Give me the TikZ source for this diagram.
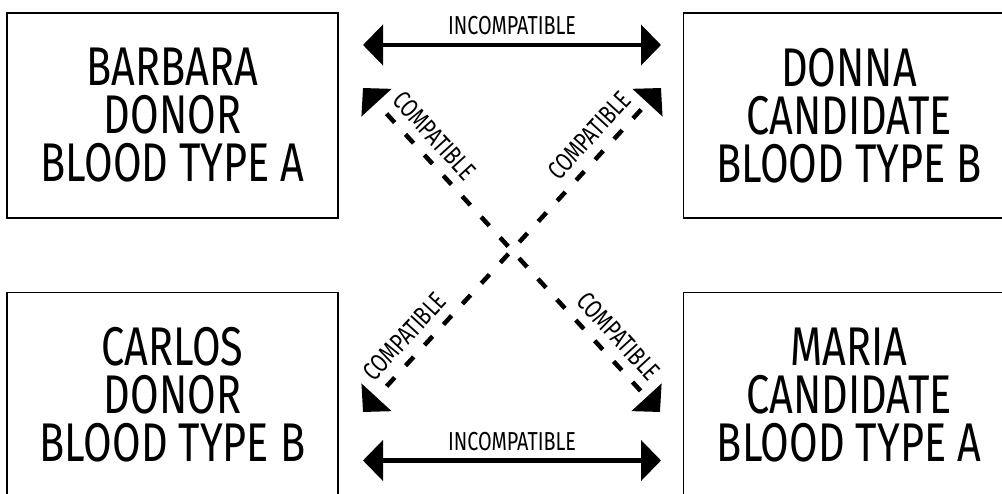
\documentclass[tikz,border=0pt]{standalone}
\usepackage{fontspec}
\setmainfont{Fira Sans}[FakeStretch=0.76]
\usetikzlibrary{positioning,arrows.meta}

\begin{document}
\begin{tikzpicture}[
      x=1pt, y=1pt,
      node distance=73pt and 344pt,
      person/.style={rectangle, draw=black, line width=1.5pt, minimum width=331pt, minimum height=205pt, align=center, inner sep=0pt, font=\fontsize{54.5pt}{48pt}\selectfont},
      lbl/.style={inner sep=2pt, font=\fontsize{26pt}{27pt}\selectfont},
      solidarrow/.style={{Triangle[length=20pt,width=40pt]}-{Triangle[length=20pt,width=40pt]}, line width=4.5pt, black},
      dasharrow/.style={solidarrow, dash pattern=on 12pt off 16pt, dash phase=12pt}
    ]
      \useasboundingbox (0,0) rectangle (1002,493);
      \clip (0,0) rectangle (1002,493);

      \node[person] (barbara) at (172.5,377.5) {BARBARA\\DONOR\\BLOOD TYPE A};
      \node[person, right=of barbara] (donna) {DONNA\\CANDIDATE\\BLOOD TYPE B};
      \node[person, below=of barbara] (carlos) {CARLOS\\DONOR\\BLOOD TYPE B};
      \node[person, right=of carlos] (maria) {MARIA\\CANDIDATE\\BLOOD TYPE A};

      % arrow ends between the boxes
      \coordinate (topL) at (363,448);
      \coordinate (topR) at (661,448);
      \coordinate (botL) at (363,32.5);
      \coordinate (botR) at (661,32.5);
      \coordinate (diagTL) at (363,405);
      \coordinate (diagTR) at (661,405);
      \coordinate (diagBL) at (363,81);
      \coordinate (diagBR) at (660,81);

      \draw[solidarrow] (topL) -- node[lbl, above=6pt]{INCOMPATIBLE} (topR);
      \draw[solidarrow] (botL) -- node[lbl, above=5pt]{INCOMPATIBLE} (botR);
      \draw[dasharrow] (diagTL) -- node[lbl, sloped, above=7pt, pos=0.19]{COMPATIBLE} node[lbl, sloped, above=7pt, pos=0.81]{COMPATIBLE} (diagBR);
      \draw[dasharrow] (diagBL) -- node[lbl, sloped, above=7pt, pos=0.19]{COMPATIBLE} node[lbl, sloped, above=7pt, pos=0.81]{COMPATIBLE} (diagTR);
    \end{tikzpicture}
\end{document}
